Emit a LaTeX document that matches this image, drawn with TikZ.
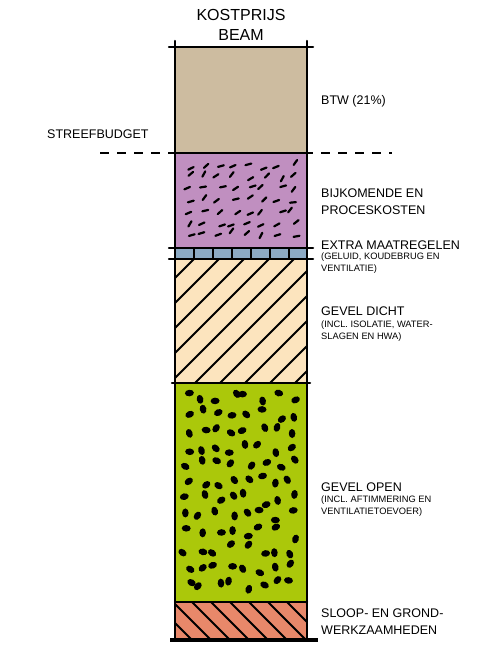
\documentclass[tikz,border=0pt]{standalone}
\usepackage{fontspec}
\setmainfont{Liberation Sans}
\usetikzlibrary{positioning}

\definecolor{btwkleur}{HTML}{CDBCA0}
\definecolor{paars}{HTML}{C08FC0}
\definecolor{blauw}{HTML}{8CAAC4}
\definecolor{creme}{HTML}{FCE4BE}
\definecolor{groen}{HTML}{ABC80A}
\definecolor{oranje}{HTML}{E8886A}

\begin{document}
\begin{tikzpicture}[x=1pt, y=-1pt,
    laag/.style={rectangle, anchor=north west, minimum width=132pt, inner sep=0pt, outer sep=0pt},
    kop/.style={anchor=west, align=left, inner sep=0pt, font=\fontsize{12.5}{17}\selectfont},
    sub/.style={anchor=west, align=left, inner sep=0pt, font=\fontsize{9.3}{12.5}\selectfont},
    rand/.style={line width=2.5pt, line cap=round},
    arcering/.style={line width=1.8pt},
]
\useasboundingbox (0,0) rectangle (479,671);

% lagen van de kolom
\node (btw) [laag, fill=btwkleur, minimum height=106pt] at (175,47) {};
\node (bijkomend) [laag, fill=paars, minimum height=95pt] at (175,153) {};
\node (extra) [laag, fill=blauw, minimum height=11pt] at (175,248) {};
\node (dicht) [laag, fill=creme, minimum height=124pt] at (175,259) {};
\node (open) [laag, fill=groen, minimum height=219pt] at (175,383) {};
\node (sloop) [laag, fill=oranje, minimum height=38pt] at (175,602) {};

% vulling
\pgfmathsetseed{11}
\begin{scope}[shift={(bijkomend.north west)}]
  \foreach \kx in {0,...,7}
    \foreach \ky in {0,...,6} {
      \pgfmathsetmacro\px{12+\kx*15+(rnd-0.5)*8}
      \pgfmathsetmacro\py{14+\ky*11.5+(rnd-0.5)*6}
      \pgfmathsetmacro\hoek{-5-rnd*60}
      \draw[line width=2.2pt, line cap=round] (\px,\py) -- ++(\hoek:6);
    }
\end{scope}
\begin{scope}[shift={(open.north west)}]
  \foreach \kx in {0,...,7}
    \foreach \ky in {0,...,11} {
      \pgfmathsetmacro\px{12+\kx*15+(rnd-0.5)*10}
      \pgfmathsetmacro\py{14+\ky*17+(rnd-0.5)*12}
      \pgfmathsetmacro\hoek{rnd*180}
      \fill[rotate around={\hoek:(\px,\py)}] (\px,\py) ellipse (4.5pt and 3.3pt);
    }
\end{scope}
\begin{scope}
  \clip (dicht.north west) rectangle (dicht.south east);
  \foreach \i in {0,...,11}
    \draw[arcering] ([xshift=\i*25pt-130pt]dicht.south west) -- ++(150,-150);
\end{scope}
\begin{scope}
  \clip (sloop.north west) rectangle (sloop.south east);
  \foreach \i in {0,...,9}
    \draw[arcering] ([xshift=\i*19pt-40pt]sloop.north west) -- ++(50,50);
\end{scope}
\foreach \i in {1,...,6}
  \draw[line width=1.6pt] ([xshift=\i*19pt]extra.north west) -- ([xshift=\i*19pt]extra.south west);

% omlijning
\draw[rand] ([yshift=6pt]btw.north west) -- (sloop.south west);
\draw[rand] ([yshift=6pt]btw.north east) -- (sloop.south east);
\draw[rand] ([xshift=-6pt]btw.north west) -- ([xshift=6pt]btw.north east);
\draw[rand] ([xshift=-6pt]extra.north west) -- ([xshift=6pt]extra.north east);
\draw[rand] ([xshift=-6pt]extra.south west) -- ([xshift=6pt]extra.south east);
\draw[rand] ([xshift=-3pt]open.north west) -- ([xshift=3pt]open.north east);
\draw[rand] (sloop.north west) -- (sloop.north east);
\draw[line width=3.5pt] ([xshift=-5pt]sloop.south west) -- ([xshift=11pt]sloop.south east);

% streefbudget
\coordinate (budgetlinks) at (100,153);
\coordinate (budgetrechts) at (392,153);
\draw[line width=2.5pt, dash pattern=on 9pt off 8pt] (budgetlinks) -- (budgetrechts);
\draw[rand] (bijkomend.north west) -- (bijkomend.north east);

% teksten
\node (titel) [align=center, font=\fontsize{16}{20}\selectfont] at (241,25) {KOSTPRIJS\\BEAM};
\node (budget) [kop] at (47,134) {STREEFBUDGET};
\node (btwtekst) [kop] at (321,101) {BTW (21\%)};
\node (bijktekst) [kop] at (321,202) {BIJKOMENDE EN\\PROCESKOSTEN};
\node (extratekst) [kop] at (321,245) {EXTRA MAATREGELEN};
\node (extrasub) [sub] at (321,263) {(GELUID, KOUDEBRUG EN\\VENTILATIE)};
\node (dichttekst) [kop] at (321,311) {GEVEL DICHT};
\node (dichtsub) [sub] at (321,331) {(INCL. ISOLATIE, WATER-\\SLAGEN EN HWA)};
\node (opentekst) [kop] at (321,487) {GEVEL OPEN};
\node (opensub) [sub] at (321,506) {(INCL. AFTIMMERING EN\\VENTILATIETOEVOER)};
\node (slooptekst) [kop] at (321,622) {SLOOP- EN GROND-\\WERKZAAMHEDEN};

\end{tikzpicture}
\end{document}
